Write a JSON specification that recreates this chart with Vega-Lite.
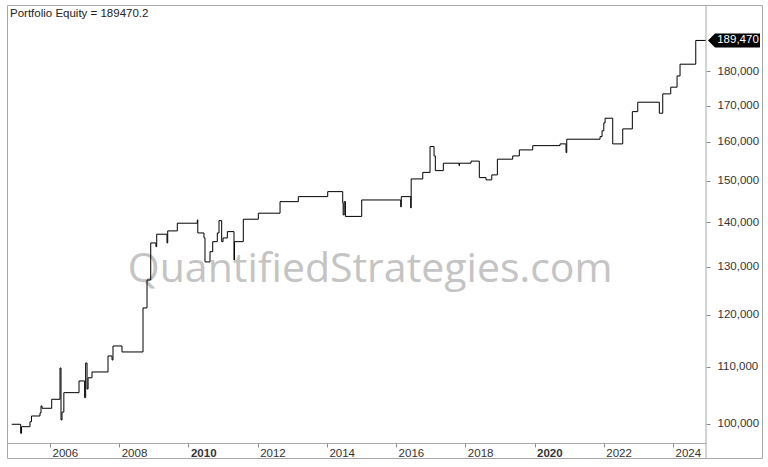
{
  "$schema": "https://vega.github.io/schema/vega-lite/v6.json",
  "width": 755,
  "height": 453,
  "autosize": {"type": "none"},
  "padding": {"left": 7, "top": 5, "right": 6, "bottom": 9},
  "background": "white",
  "config": {
    "view": {"stroke": "#a8a8a8", "strokeWidth": 1},
    "font": "Liberation Sans"
  },
  "datasets": {
    "equity": [
      {"t": 2004.893, "v": 99950},
      {"t": 2005.153, "v": 98460},
      {"t": 2005.177, "v": 99550},
      {"t": 2005.422, "v": 100380},
      {"t": 2005.465, "v": 101340},
      {"t": 2005.711, "v": 101850},
      {"t": 2005.74, "v": 103050},
      {"t": 2005.77, "v": 102650},
      {"t": 2006.049, "v": 104200},
      {"t": 2006.289, "v": 109780},
      {"t": 2006.318, "v": 100670},
      {"t": 2006.347, "v": 102000},
      {"t": 2006.40, "v": 105360},
      {"t": 2006.838, "v": 107430},
      {"t": 2007.0, "v": 104500},
      {"t": 2007.03, "v": 110700},
      {"t": 2007.07, "v": 106000},
      {"t": 2007.1, "v": 108000},
      {"t": 2007.213, "v": 109050},
      {"t": 2007.676, "v": 112000},
      {"t": 2007.792, "v": 111260},
      {"t": 2007.82, "v": 113880},
      {"t": 2008.08, "v": 112750},
      {"t": 2008.687, "v": 121330},
      {"t": 2008.803, "v": 127120},
      {"t": 2008.91, "v": 135210},
      {"t": 2009.06, "v": 134380},
      {"t": 2009.083, "v": 137190},
      {"t": 2009.38, "v": 135210},
      {"t": 2009.401, "v": 137950},
      {"t": 2009.678, "v": 139730},
      {"t": 2010.256, "v": 140500},
      {"t": 2010.27, "v": 137480},
      {"t": 2010.449, "v": 136340},
      {"t": 2010.478, "v": 131000},
      {"t": 2010.623, "v": 133260},
      {"t": 2010.701, "v": 135500},
      {"t": 2010.834, "v": 137480},
      {"t": 2010.883, "v": 140330},
      {"t": 2010.96, "v": 135500},
      {"t": 2011.0, "v": 136340},
      {"t": 2011.124, "v": 137780},
      {"t": 2011.316, "v": 131430},
      {"t": 2011.33, "v": 135500},
      {"t": 2011.585, "v": 140660},
      {"t": 2012.019, "v": 142080},
      {"t": 2012.646, "v": 144840},
      {"t": 2013.174, "v": 146060},
      {"t": 2014.024, "v": 147280},
      {"t": 2014.457, "v": 144530},
      {"t": 2014.47, "v": 141670},
      {"t": 2014.50, "v": 144840},
      {"t": 2014.535, "v": 141320},
      {"t": 2015.006, "v": 145250},
      {"t": 2016.133, "v": 143580},
      {"t": 2016.15, "v": 146060},
      {"t": 2016.422, "v": 143330},
      {"t": 2016.435, "v": 150430},
      {"t": 2016.769, "v": 152070},
      {"t": 2016.98, "v": 158760},
      {"t": 2017.096, "v": 156310},
      {"t": 2017.133, "v": 152530},
      {"t": 2017.364, "v": 154420},
      {"t": 2017.818, "v": 153800},
      {"t": 2017.83, "v": 154420},
      {"t": 2018.164, "v": 154960},
      {"t": 2018.404, "v": 150760},
      {"t": 2018.598, "v": 150190},
      {"t": 2018.763, "v": 151440},
      {"t": 2018.925, "v": 155460},
      {"t": 2019.369, "v": 156310},
      {"t": 2019.56, "v": 157880},
      {"t": 2019.947, "v": 159010},
      {"t": 2020.736, "v": 159470},
      {"t": 2020.909, "v": 157170},
      {"t": 2020.93, "v": 160720},
      {"t": 2021.892, "v": 161420},
      {"t": 2021.95, "v": 163000},
      {"t": 2022.0, "v": 165150},
      {"t": 2022.037, "v": 166440},
      {"t": 2022.258, "v": 159470},
      {"t": 2022.547, "v": 163510},
      {"t": 2022.825, "v": 168280},
      {"t": 2022.981, "v": 170940},
      {"t": 2023.605, "v": 167830},
      {"t": 2023.703, "v": 173330},
      {"t": 2023.935, "v": 175280},
      {"t": 2024.117, "v": 178600},
      {"t": 2024.203, "v": 182120},
      {"t": 2024.657, "v": 189470},
      {"t": 2024.953, "v": 189470}
    ]
  },
  "layer": [
    {
      "data": {"values": [{"label": "QuantifiedStrategies.com"}]},
      "mark": {"type": "text", "align": "center", "baseline": "middle", "font": "Open Sans", "fontSize": 41, "color": "#c4c4c4"},
      "encoding": {
        "x": {"datum": 2015.25, "type": "quantitative"},
        "y": {"datum": 129260, "type": "quantitative"},
        "text": {"field": "label"}
      }
    },
    {
      "data": {"name": "equity"},
      "mark": {"type": "line", "interpolate": "step-after", "color": "#000000", "strokeWidth": 1},
      "encoding": {
        "x": {
          "field": "t",
          "type": "quantitative",
          "scale": {"domain": [2004.7576, 2024.953], "range": [0, 699], "nice": false, "zero": false},
          "axis": {
            "orient": "bottom",
            "offset": -15,
            "title": null,
            "values": [2006, 2008, 2010, 2012, 2014, 2016, 2018, 2020, 2022, 2024],
            "format": "d",
            "grid": false,
            "domainColor": "#a8a8a8",
            "tickColor": "#8c8c8c",
            "tickSize": 4,
            "labelAlign": "left",
            "labelBaseline": "top",
            "labelPadding": 0,
            "labelOffset": 2,
            "labelFontSize": 11.5,
            "labelColor": "#333333",
            "labelFlush": false,
            "labelOverlap": false,
            "labelFontWeight": {"condition": {"test": "datum.value == 2010 || datum.value == 2020", "value": "bold"}, "value": "normal"}
          }
        },
        "y": {
          "field": "v",
          "type": "quantitative",
          "scale": {"type": "log", "domain": [96880, 201000], "range": [438, 0], "nice": false, "zero": false},
          "axis": {
            "orient": "right",
            "offset": -56,
            "title": null,
            "domain": false,
            "grid": false,
            "values": [100000, 110000, 120000, 130000, 140000, 150000, 160000, 170000, 180000],
            "format": ",",
            "tickColor": "#8c8c8c",
            "tickSize": 4,
            "labelPadding": 7,
            "labelFontSize": 11.5,
            "labelColor": "#333333"
          }
        }
      }
    },
    {
      "data": {"values": [{}]},
      "mark": {"type": "rule", "color": "#a8a8a8", "strokeWidth": 1},
      "encoding": {
        "x": {"datum": 2024.953, "type": "quantitative"}
      }
    },
    {
      "data": {"values": [{"label": "Portfolio Equity = 189470.2"}]},
      "mark": {"type": "text", "align": "left", "baseline": "alphabetic", "dx": 3, "dy": 12, "fontSize": 11.5, "color": "#222222", "font": "Liberation Sans"},
      "encoding": {
        "x": {"datum": 2004.7576, "type": "quantitative"},
        "y": {"datum": 201000, "type": "quantitative"},
        "text": {"field": "label"}
      }
    },
    {
      "data": {"values": [{"v": 189470.2}]},
      "mark": {"type": "point", "shape": "M0.2,0 L0.9,-0.7 L5.4,-0.7 L5.4,0.7 L0.9,0.7 Z", "size": 400, "filled": true, "fill": "#000000", "fillOpacity": 1, "opacity": 1, "strokeWidth": 0},
      "encoding": {
        "x": {"datum": 2024.953, "type": "quantitative"},
        "y": {"field": "v", "type": "quantitative"}
      }
    },
    {
      "data": {"values": [{"v": 189470.2, "label": "189,470"}]},
      "mark": {"type": "text", "align": "center", "baseline": "middle", "dx": 32, "fontSize": 11.5, "color": "#ffffff", "font": "Liberation Sans"},
      "encoding": {
        "x": {"datum": 2024.953, "type": "quantitative"},
        "y": {"field": "v", "type": "quantitative"},
        "text": {"field": "label"}
      }
    }
  ]
}
